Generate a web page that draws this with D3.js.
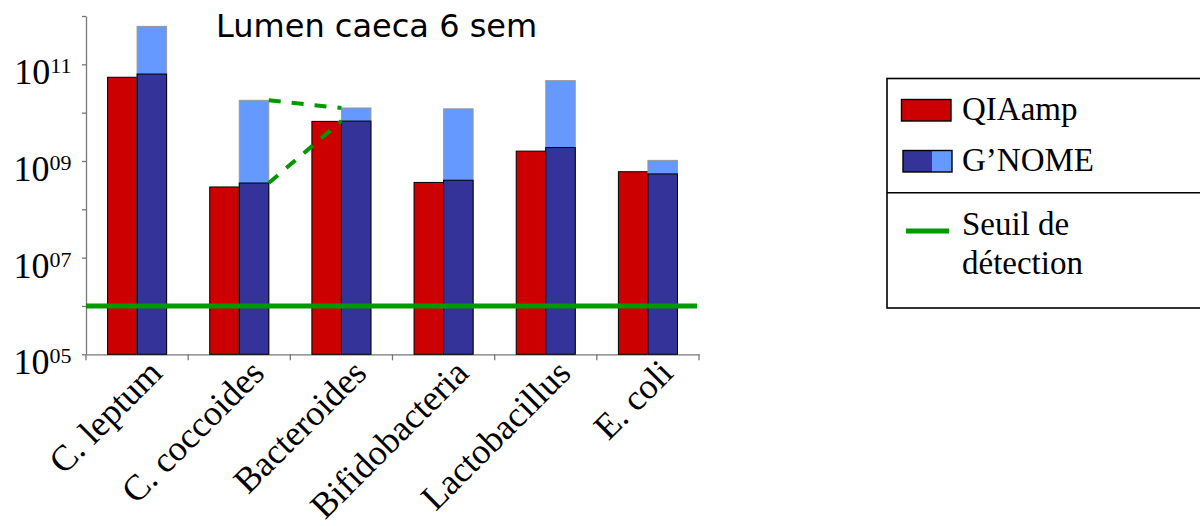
<!DOCTYPE html>
<html>
<head>
<meta charset="utf-8">
<script src="https://cdn.jsdelivr.net/npm/d3@7"></script>
<style>
  html, body { margin: 0; padding: 0; background: #fff; }
  svg { display: block; }
</style>
</head>
<body>
<svg id="chart" width="1200" height="526"></svg>
<script>
// Bacterial groups measured in caecal lumen at 6 weeks (copies, log scale)
const categories = ["C. leptum", "C. coccoides", "Bacteroides", "Bifidobacteria", "Lactobacillus", "E. coli"];
const qiaamp     = [5.4e10, 2.9e8, 6.6e9, 3.6e8, 1.6e9, 6.0e8];
const gnome      = [6.3e10, 3.5e8, 6.7e9, 4.0e8, 1.9e9, 5.4e8];
const gnomeHigh  = [6.1e11, 1.8e10, 1.25e10, 1.2e10, 4.6e10, 1.03e9];
const threshold  = 1e6;
const yTickValues = [1e5, 1e6, 1e7, 1e8, 1e9, 1e10, 1e11, 1e12];
const yLabelExponents = ["05", "07", "09", "11"];
const title = "Lumen caeca 6 sem";
const legendItems = ["QIAamp", "G\u2019NOME"];
const thresholdLabel = ["Seuil de", "détection"];

const RED = "#cc0000", DARK = "#333399", LIGHT = "#6699ff", GREEN = "#009900", AXIS = "#777";

const svg = d3.select("#chart");

const y = d3.scaleLog().domain([1e5, 1e12]).range([354.3, 16]);
const x = d3.scaleBand().domain(categories).range([86, 699]).paddingInner(0).paddingOuter(0);
const inner = d3.scaleBand().domain(["q", "g"]).range([0, x.bandwidth()]).paddingInner(0).paddingOuter(0.73);

// Y axis with a tick on every decade
const yAxis = d3.axisLeft(y).tickValues(yTickValues).tickSize(4).tickSizeOuter(0).tickFormat("");
const yg = svg.append("g").attr("transform", "translate(86,0)").call(yAxis);
yg.selectAll("path,line").attr("stroke", AXIS).attr("stroke-width", 1.3);

// Labels 10^05, 10^07, ... on odd decades
const serif = "'Liberation Serif', 'Times New Roman', serif";
yLabelExponents.forEach(e => {
  const v = Math.pow(10, +e);
  const t = svg.append("text")
    .attr("x", 71.5).attr("y", y(v) + 20)
    .attr("text-anchor", "end")
    .attr("font-family", serif).attr("fill", "#000");
  t.append("tspan").attr("font-size", 36).text("10");
  t.append("tspan").attr("font-size", 22).attr("dy", -11).text(e);
});

// X axis line and category boundary ticks
const xAxis = d3.axisBottom(x).tickSize(0).tickSizeOuter(0).tickFormat("");
const xg = svg.append("g").attr("transform", `translate(0,${y(1e5)})`).call(xAxis);
xg.selectAll("path").attr("stroke", AXIS).attr("stroke-width", 1.3);
xg.selectAll(".tick").remove();
const bounds = categories.map(c => x(c)).concat([x.range()[1]]);
svg.append("g").selectAll("line").data(bounds).join("line")
  .attr("x1", d => d).attr("x2", d => d)
  .attr("y1", y(1e5)).attr("y2", y(1e5) + 6)
  .attr("stroke", AXIS).attr("stroke-width", 1.3);

// Bars
const bars = svg.append("g");
categories.forEach((c, i) => {
  const x0 = x(c);
  const w = inner.bandwidth();
  // QIAamp
  bars.append("rect")
    .attr("x", x0 + inner("q")).attr("y", y(qiaamp[i]))
    .attr("width", w).attr("height", y(1e5) - y(qiaamp[i]))
    .attr("fill", RED).attr("stroke", "#000").attr("stroke-width", 1);
  // G'NOME upper range
  bars.append("rect")
    .attr("x", x0 + inner("g")).attr("y", y(gnomeHigh[i]))
    .attr("width", w).attr("height", y(1e5) - y(gnomeHigh[i]))
    .attr("fill", LIGHT).attr("stroke", "#999").attr("stroke-width", 1);
  // G'NOME measured
  bars.append("rect")
    .attr("x", x0 + inner("g")).attr("y", y(gnome[i]))
    .attr("width", w).attr("height", y(1e5) - y(gnome[i]))
    .attr("fill", DARK).attr("stroke", "#000").attr("stroke-width", 1);
});

// Detection threshold
svg.append("line")
  .attr("x1", 86).attr("x2", 697)
  .attr("y1", y(threshold)).attr("y2", y(threshold))
  .attr("stroke", GREEN).attr("stroke-width", 5);

// Dashed links between C. coccoides and Bacteroides G'NOME values
const iA = categories.indexOf("C. coccoides"), iB = categories.indexOf("Bacteroides");
const xa = x(categories[iA]) + inner("g") + inner.bandwidth();
const xb = x(categories[iB]) + inner("g");
[[gnomeHigh[iA], gnomeHigh[iB]], [gnome[iA], gnome[iB]]].forEach(([va, vb]) => {
  svg.append("line")
    .attr("x1", xa).attr("y1", y(va))
    .attr("x2", xb).attr("y2", y(vb))
    .attr("stroke", GREEN).attr("stroke-width", 4)
    .attr("stroke-dasharray", "12,11");
});

// Category labels, rotated
svg.append("g").selectAll("text").data(categories).join("text")
  .attr("transform", d => `translate(${x(d) + x.bandwidth() / 2 + 27},375) rotate(-45)`)
  .attr("text-anchor", "end")
  .attr("font-family", serif).attr("font-size", 36).attr("fill", "#000")
  .text(d => d);

// Title
svg.append("text")
  .attr("x", 216).attr("y", 37)
  .attr("font-family", "'DejaVu Sans', Verdana, sans-serif").attr("font-size", 32)
  .attr("fill", "#000")
  .text(title);

// Legend
const lg = svg.append("g");
lg.append("rect").attr("x", 887).attr("y", 78.5).attr("width", 330).attr("height", 229.5)
  .attr("fill", "#fff").attr("stroke", "#000").attr("stroke-width", 1.6);
lg.append("line").attr("x1", 887).attr("x2", 1210).attr("y1", 192.7).attr("y2", 192.7)
  .attr("stroke", "#000").attr("stroke-width", 1.6);
lg.append("rect").attr("x", 901.5).attr("y", 99.5).attr("width", 49.5).attr("height", 21.5)
  .attr("fill", RED).attr("stroke", "#000").attr("stroke-width", 1.4);
lg.append("rect").attr("x", 903).attr("y", 150.5).attr("width", 29).attr("height", 21.5)
  .attr("fill", DARK);
lg.append("rect").attr("x", 932).attr("y", 150.5).attr("width", 20).attr("height", 21.5)
  .attr("fill", LIGHT);
lg.append("rect").attr("x", 903).attr("y", 150.5).attr("width", 49).attr("height", 21.5)
  .attr("fill", "none").attr("stroke", "#000").attr("stroke-width", 1.4);
lg.append("line").attr("x1", 906).attr("x2", 949).attr("y1", 231).attr("y2", 231)
  .attr("stroke", GREEN).attr("stroke-width", 5);
const lt = (txt, yy) => lg.append("text").attr("x", 962).attr("y", yy)
  .attr("font-family", serif).attr("font-size", 33).attr("fill", "#000").text(txt);
lt(legendItems[0], 119.5);
lt(legendItems[1], 170.5);
lt(thresholdLabel[0], 235);
lt(thresholdLabel[1], 273.5);
</script>
</body>
</html>
